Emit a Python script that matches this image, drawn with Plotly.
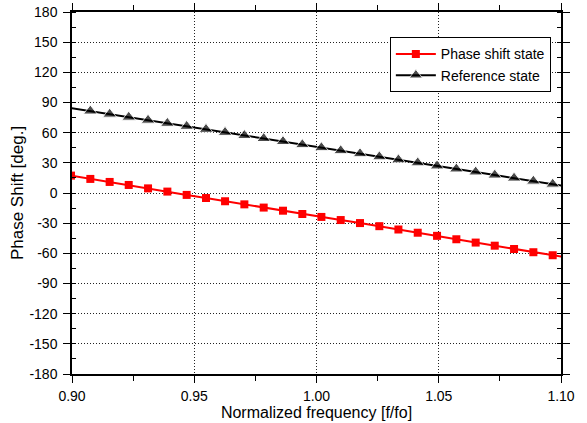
import plotly.graph_objects as go

# normalized frequency points (the first and last sit just outside the axis range)
freq = [0.8996, 0.9075, 0.9154, 0.9232, 0.9311, 0.9390, 0.9469, 0.9548, 0.9626,
        0.9705, 0.9784, 0.9863, 0.9942, 1.0020, 1.0099, 1.0178, 1.0257, 1.0335,
        1.0414, 1.0493, 1.0572, 1.0651, 1.0729, 1.0808, 1.0887, 1.0966, 1.1045]

phase_shift_state = [17.3, 14.0, 11.0, 8.0, 4.6, 1.4, -1.9, -5.0, -8.2,
                     -11.3, -14.5, -17.6, -20.9, -23.8, -26.9, -29.9, -33.0, -36.3,
                     -39.5, -42.6, -46.0, -49.3, -52.4, -55.7, -58.9, -61.9, -65.0]

reference_state = [84.5, 81.5, 78.4, 75.4, 72.4, 69.3, 66.3, 63.3, 60.3,
                   57.2, 54.2, 51.2, 48.1, 45.1, 42.1, 39.1, 36.0, 33.0,
                   30.0, 26.9, 23.9, 20.9, 17.8, 14.8, 11.8, 8.8, 5.7]

y_ticks = [-180, -150, -120, -90, -60, -30, 0, 30, 60, 90, 120, 150, 180]
y_tick_labels = ['-180', '-150', '-120', '-90', '-60', '-30', '0', '30', '60', '90', '120', '150', '180']
x_ticks = [0.90, 0.95, 1.00, 1.05, 1.10]
x_tick_labels = ['0.90', '0.95', '1.00', '1.05', '1.10']

font = 'Liberation Sans, Arial, sans-serif'

fig = go.Figure()
fig.add_trace(go.Scatter(x=freq, y=phase_shift_state, name='Phase shift state', mode='lines+markers',
                         line=dict(color='#ff0000', width=2),
                         marker=dict(symbol='square', size=8, color='#ff0000')))
fig.add_trace(go.Scatter(x=freq, y=reference_state, name='Reference state', mode='lines+markers',
                         line=dict(color='#000000', width=2),
                         marker=dict(symbol='triangle-up', size=[0] + [12] * (len(freq) - 1), color='#000000')))

axis_common = dict(showline=True, linecolor='black', linewidth=1.5, mirror='ticks',
                   ticks='outside', tickcolor='black', ticklen=7, tickwidth=1, automargin=False,
                   showgrid=True, gridcolor='#222222', griddash='1px,2px', gridwidth=1,
                   zeroline=False, tickfont=dict(family=font, size=14, color='black'))

fig.update_xaxes(range=[0.90, 1.10], tickvals=x_ticks, ticktext=x_tick_labels, ticklabelstandoff=1,
                 minor=dict(dtick=0.025, ticks='outside', ticklen=5, tickcolor='black', showgrid=False),
                 title=dict(text='Normalized frequency [f/fo]', font=dict(family=font, size=16, color='black'),
                            standoff=1),
                 **axis_common)
fig.update_yaxes(range=[-180, 180], tickvals=y_ticks, ticktext=y_tick_labels, ticklabelstandoff=3,
                 minor=dict(dtick=15, ticks='inside', ticklen=4, tickcolor='black', showgrid=False),
                 title=dict(text='Phase Shift [deg.]', font=dict(family=font, size=17, color='black'),
                            standoff=1),
                 **axis_common)

fig.update_layout(
    width=587, height=423,
    margin=dict(l=72, r=26, t=12, b=49),
    plot_bgcolor='white', paper_bgcolor='white',
    showlegend=True,
    legend=dict(x=0.65, y=0.93, xanchor='left', yanchor='top',
                bordercolor='black', borderwidth=1, bgcolor='white',
                font=dict(family=font, size=14, color='black'),
                tracegroupgap=0, itemwidth=40),
)

# drop the default page margin so the figure sits at the window's corner
fig.write_html("out.html", config={'displayModeBar': False},
               post_script="document.body.style.margin = '0';")
